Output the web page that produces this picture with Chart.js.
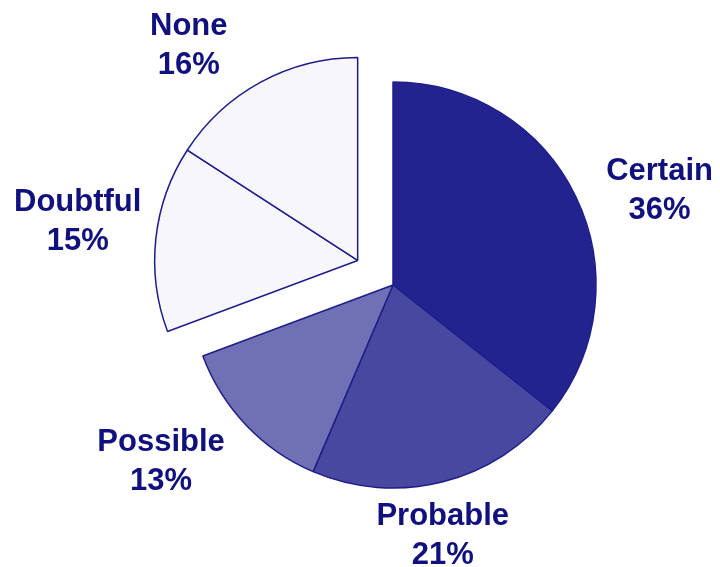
<!DOCTYPE html>
<html>
<head>
<meta charset="utf-8">
<script src="https://cdn.jsdelivr.net/npm/chart.js@4"></script>
<style>
  html, body { margin: 0; padding: 0; background: #fff; }
  #wrap { width: 720px; height: 567px; }
</style>
</head>
<body>
<div id="wrap"><canvas id="pie"></canvas></div>
<script>
// categorias e valores (%)
const labels   = ['Certain', 'Probable', 'Possible', 'Doubtful', 'None'];
const values   = [36, 21, 13, 15, 16];
const colors   = ['#232390', '#4848a0', '#7070b4', '#f6f6fb', '#f6f6fb'];
const exploded = [false, false, false, true, true];

const TEXT_COLOR = '#10107e';
const FONT = 'bold 31px "Liberation Sans", Arial, sans-serif';
const LINE_H = 39;
// ajuste fino (px) de cada rótulo em relação à posição calculada
const NUDGE = [[16, 21], [-22, -5], [-23, -5], [7, -10], [-43, 17]];

/** Desloca juntas as fatias marcadas em `exploded`, pelo ângulo médio do grupo. */
const explodePlugin = {
  id: 'explodeGroup',
  afterDatasetsUpdate(chart, args, opts) {
    const meta = chart.getDatasetMeta(0);
    const grp = meta.data.filter((_, i) => exploded[i]);
    if (!grp.length) return;
    const start = Math.min(...grp.map(a => a.startAngle));
    const end   = Math.max(...grp.map(a => a.endAngle));
    const mid = (start + end) / 2;
    const dx = Math.cos(mid) * opts.shift, dy = Math.sin(mid) * opts.shift;
    grp.forEach(a => { a.x += dx; a.y += dy; });
  },
};

/** Rótulos fora da pizza: nome na 1ª linha, percentual na 2ª. */
const outLabels = {
  id: 'outLabels',
  afterDraw(chart, args, opts) {
    const ctx = chart.ctx;
    const meta = chart.getDatasetMeta(0);
    ctx.save();
    ctx.font = FONT;
    ctx.fillStyle = TEXT_COLOR;
    ctx.textAlign = 'center';
    ctx.textBaseline = 'middle';
    meta.data.forEach((a, i) => {
      const lines = [labels[i], values[i] + '%'];
      const w = Math.max(...lines.map(t => ctx.measureText(t).width));
      const h = LINE_H * lines.length;
      const mid = (a.startAngle + a.endAngle) / 2;
      const ux = Math.cos(mid), uy = Math.sin(mid);
      const r = a.outerRadius + opts.pad;
      const [nx, ny] = NUDGE[i] || [0, 0];
      const cx = a.x + ux * r + ux * w / 2 + nx;
      const cy = a.y + uy * r + uy * h / 2 + ny;
      lines.forEach((t, k) => ctx.fillText(t, cx, cy - h / 2 + LINE_H * (k + 0.5)));
    });
    ctx.restore();
  },
};

new Chart(document.getElementById('pie'), {
  type: 'pie',
  data: {
    labels,
    datasets: [{
      data: values,
      backgroundColor: colors,
      borderColor: '#1e1e8a',
      borderWidth: 1.5,
      radius: 203,
    }],
  },
  options: {
    responsive: true,
    maintainAspectRatio: false,
    animation: false,
    events: [],
    layout: { padding: { left: 90, right: 24, top: 40, bottom: 37 } },
    plugins: {
      legend: { display: false },
      tooltip: { enabled: false },
      explodeGroup: { shift: 43 },
      outLabels: { pad: 22 },
    },
  },
  plugins: [explodePlugin, outLabels],
});
</script>
</body>
</html>
